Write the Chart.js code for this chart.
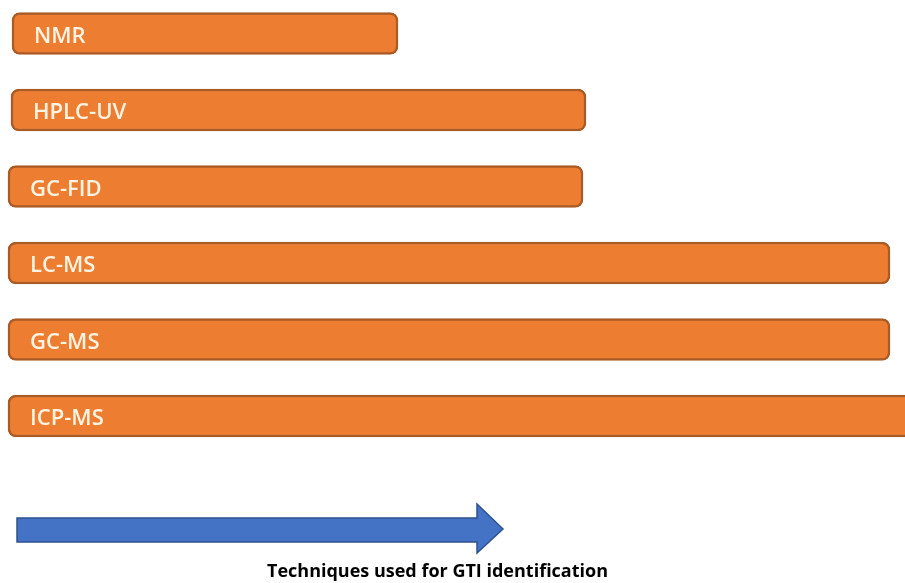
<!DOCTYPE html>
<html>
<head>
<meta charset="utf-8">
<script src="https://cdn.jsdelivr.net/npm/chart.js@4"></script>
<style>
  html, body { margin: 0; padding: 0; background: #ffffff; }
  #wrap { width: 905px; height: 583px; }
</style>
</head>
<body>
<div id="wrap"><canvas id="c" width="905" height="583"></canvas></div>
<script>
// ---- data ----
const categories = ['NMR', 'HPLC-UV', 'GC-FID', 'LC-MS', 'GC-MS', 'ICP-MS'];
const barStart = [12, 11, 8, 8, 8, 8];
const barEnd = [398, 586, 583, 890, 890, 920];
const titleText = 'Techniques used for GTI identification';

// ---- plugins ----
const barLabels = {
  id: 'barLabels',
  afterDatasetsDraw(chart) {
    const ctx = chart.ctx;
    const meta = chart.getDatasetMeta(0);
    ctx.save();
    ctx.fillStyle = '#fff3e2';
    ctx.font = '600 21px "Open Sans"';
    ctx.textBaseline = 'alphabetic';
    meta.data.forEach((bar, i) => {
      const x = Math.min(bar.x, bar.base) + 22;
      const y = bar.y + 9;
      ctx.save();
      ctx.translate(x, y);
      ctx.scale(1.05, 1);
      ctx.fillText(categories[i], 0, 0);
      ctx.restore();
    });
    ctx.restore();
  }
};

const arrowPlugin = {
  id: 'arrowPlugin',
  afterDraw(chart) {
    const ctx = chart.ctx;
    ctx.save();
    ctx.fillStyle = '#4472c4';
    ctx.strokeStyle = '#2f528f';
    ctx.lineWidth = 1.5;
    ctx.beginPath();
    ctx.moveTo(17, 518);
    ctx.lineTo(477, 518);
    ctx.lineTo(477, 504);
    ctx.lineTo(503, 529);
    ctx.lineTo(477, 553);
    ctx.lineTo(477, 542);
    ctx.lineTo(17, 542);
    ctx.closePath();
    ctx.fill();
    ctx.stroke();
    ctx.restore();
  }
};

new Chart(document.getElementById('c'), {
  type: 'bar',
  data: {
    labels: categories,
    datasets: [{
      data: categories.map((c, i) => [barStart[i], barEnd[i]]),
      backgroundColor: '#ed7d31',
      borderColor: '#a95a25',
      borderWidth: 2.5,
      borderRadius: 8,
      borderSkipped: false,
      barThickness: 42,
      clip: false
    }]
  },
  options: {
    indexAxis: 'y',
    responsive: false,
    animation: false,
    layout: { padding: { left: 0, right: 30, top: 33.5, bottom: 0 } },
    scales: {
      x: { type: 'linear', min: 0, max: 875, display: false },
      y: { type: 'category', offset: false, display: false }
    },
    plugins: {
      legend: { display: false },
      tooltip: { enabled: false },
      title: {
        display: true,
        position: 'bottom',
        text: titleText,
        color: '#000000',
        font: { family: '"Open Sans"', size: 18, weight: 'bold', lineHeight: 1.2 },
        padding: { top: 145.4, bottom: 0 }
      }
    }
  },
  plugins: [barLabels, arrowPlugin]
});
</script>
</body>
</html>
